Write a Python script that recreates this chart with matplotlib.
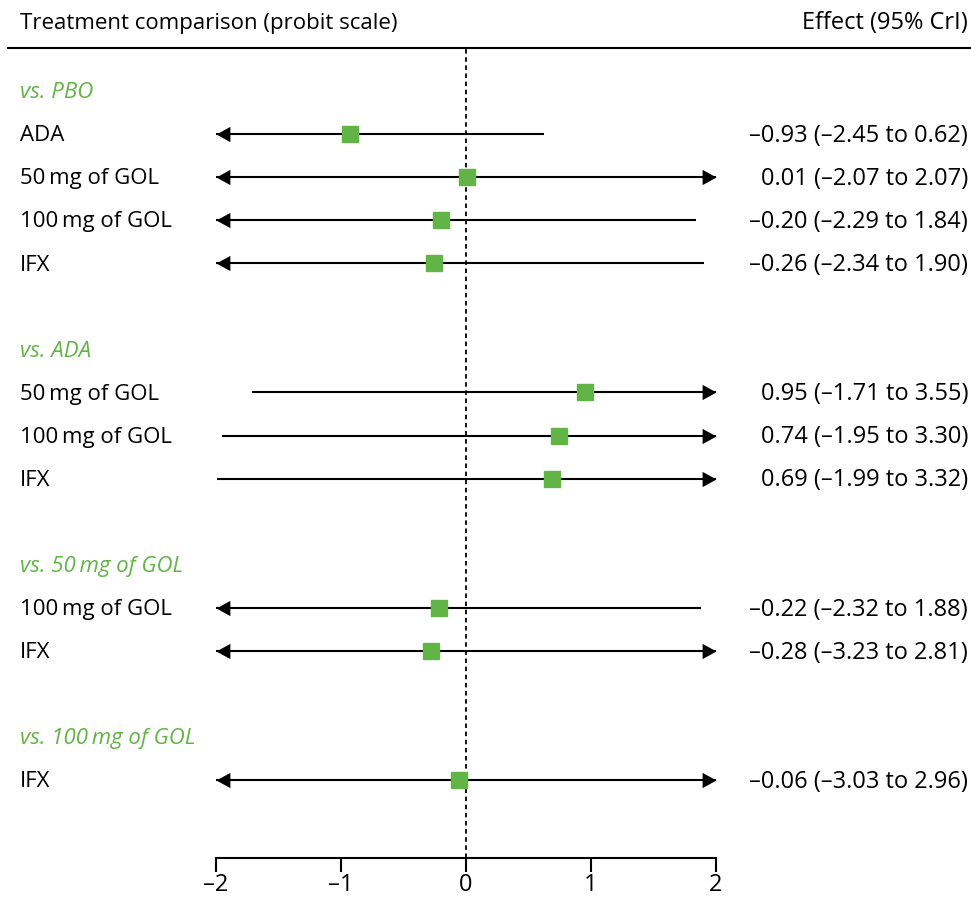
import matplotlib.pyplot as plt
from matplotlib.lines import Line2D
from matplotlib.transforms import blended_transform_factory

# Comparison groups and rows (probit scale effects, 95% CrI)
group_titles = ["vs. PBO", "vs. ADA", "vs. 50\u2009mg of GOL", "vs. 100\u2009mg of GOL"]
treatments = ["ADA", "50\u2009mg of GOL", "100\u2009mg of GOL", "IFX",
              "50\u2009mg of GOL", "100\u2009mg of GOL", "IFX",
              "100\u2009mg of GOL", "IFX",
              "IFX"]
row_group = [0, 0, 0, 0, 1, 1, 1, 2, 2, 3]
estimates = [-0.93, 0.01, -0.20, -0.26, 0.95, 0.74, 0.69, -0.22, -0.28, -0.06]
lower = [-2.45, -2.07, -2.29, -2.34, -1.71, -1.95, -1.99, -2.32, -3.23, -3.03]
upper = [0.62, 2.07, 1.84, 1.90, 3.55, 3.30, 3.32, 1.88, 2.81, 2.96]
x_ticks = [-2, -1, 0, 1, 2]

GREEN = "#62B446"
FONT = "Open Sans"
FS = 16
FS_NUM = 17
XMIN, XMAX = -2, 2

# arrow head markers with the tip at the data point
LEFT_HEAD = [(0, 0), (1, 0.55), (1, -0.55), (0, 0)]
RIGHT_HEAD = [(0, 0), (-1, 0.55), (-1, -0.55), (0, 0)]


def fmt(v):
    return f"{v:.2f}".replace("-", "\u2013")


plt.rcParams["font.family"] = [FONT, "DejaVu Sans"]

fig = plt.figure(figsize=(9.71, 8.97), dpi=100)
W, H = 971, 897
ax = fig.add_axes([216 / W, 39 / H, 500 / W, 810 / H])

# work out the vertical slot of every header and row
header_pos = []
row_pos = []
pos = 0
for g in range(len(group_titles)):
    header_pos.append(pos)
    pos += 1
    for i, grp in enumerate(row_group):
        if grp == g:
            row_pos.append(pos)
            pos += 1
    pos += 1

ax.set_xlim(XMIN, XMAX)
ax.set_ylim(17.81, -1.0)

lbl = blended_transform_factory(fig.transFigure, ax.transData)

for g, title in enumerate(group_titles):
    fig.text(20 / W, header_pos[g] + 0.04, title, transform=lbl, color=GREEN,
             style="italic", fontsize=FS, va="center", ha="left")

for i, name in enumerate(treatments):
    y = row_pos[i]
    lo, hi = lower[i], upper[i]
    ax.plot([max(lo, XMIN), min(hi, XMAX)], [y, y], color="black", lw=1.5,
            solid_capstyle="butt", zorder=2, clip_on=False)
    if lo < XMIN:
        ax.plot(XMIN, y, marker=LEFT_HEAD, ms=20, color="black",
                mew=0, zorder=3, clip_on=False)
    if hi > XMAX:
        ax.plot(XMAX, y, marker=RIGHT_HEAD, ms=20, color="black",
                mew=0, zorder=3, clip_on=False)
    ax.plot(estimates[i], y, marker="s", ms=11, color=GREEN, mec=GREEN,
            zorder=4, clip_on=False)
    fig.text(20 / W, y + 0.04, name, transform=lbl, fontsize=FS,
             va="center", ha="left")
    fig.text(968 / W, y + 0.04, f"{fmt(estimates[i])} ({fmt(lo)} to {fmt(hi)})",
             transform=lbl, fontsize=FS_NUM, va="center", ha="right")

# line of no effect
ax.axvline(0, color="black", lw=1.3, ls=(0, (2.5, 2)), zorder=1)

# header
fig.text(20 / W, 1 - 23 / H, "Treatment comparison (probit scale)",
         fontsize=FS, va="center", ha="left")
fig.text(968 / W, 1 - 23 / H, "Effect (95% CrI)",
         fontsize=FS_NUM, va="center", ha="right")
fig.add_artist(Line2D([8 / W, 1], [1 - 48 / H, 1 - 48 / H],
                      transform=fig.transFigure, color="black", lw=1.5))

for s in ["top", "left", "right"]:
    ax.spines[s].set_visible(False)
ax.spines["bottom"].set_linewidth(1.5)
ax.set_yticks([])
ax.set_xticks(x_ticks)
ax.set_xticklabels([fmt(t).replace(".00", "") for t in x_ticks], fontsize=FS_NUM)
ax.tick_params(axis="x", direction="out", length=10, width=1.5, pad=1)

fig.savefig("out.png", dpi=100)
